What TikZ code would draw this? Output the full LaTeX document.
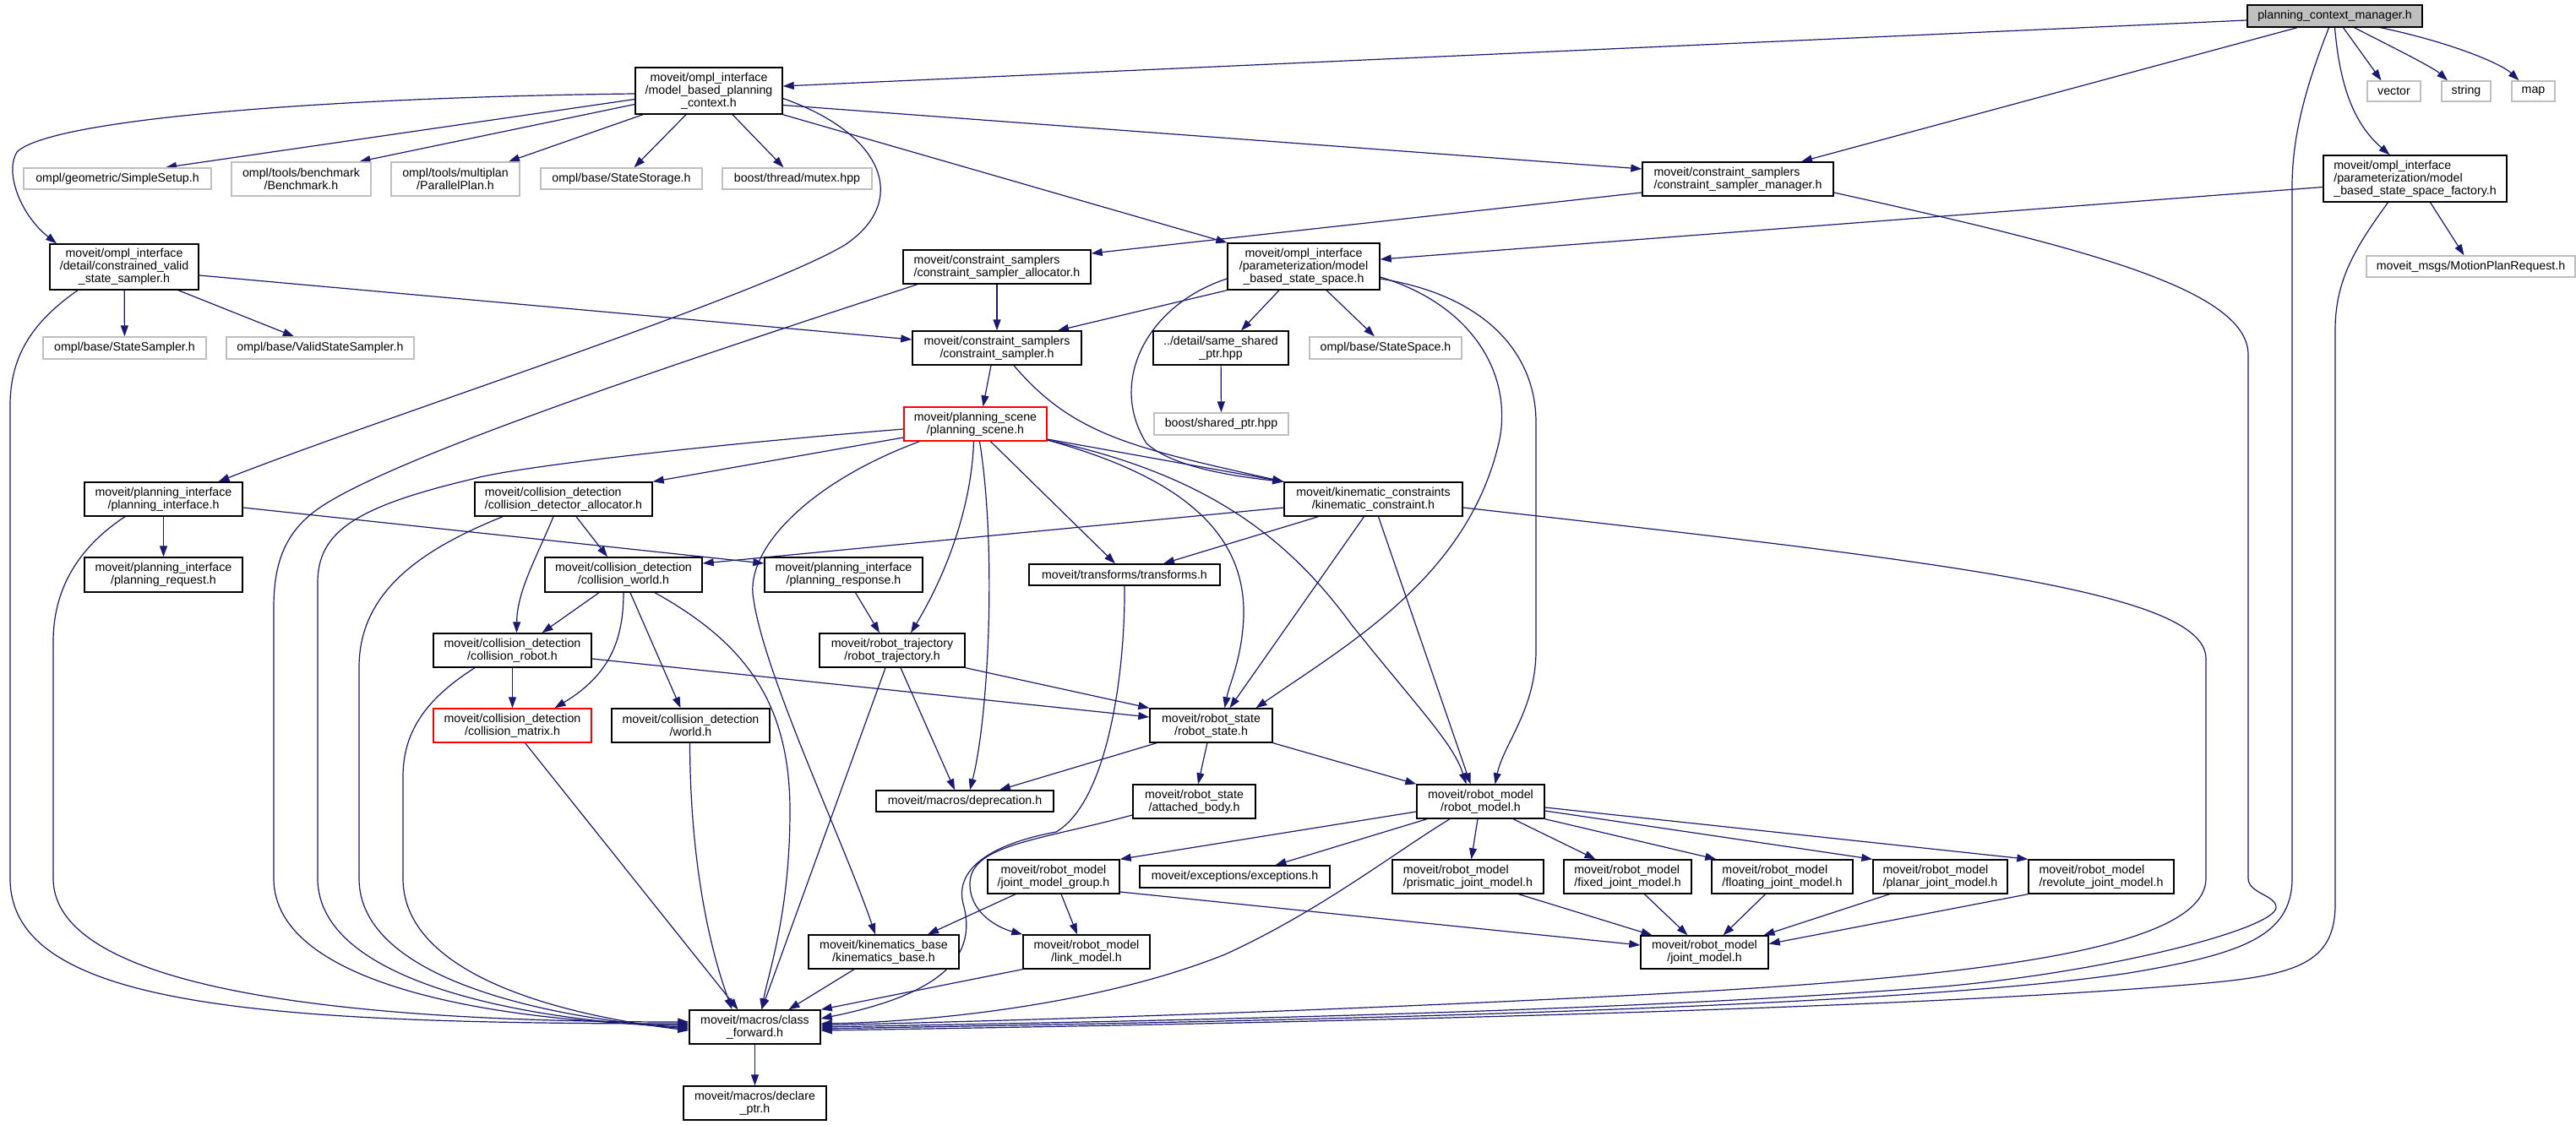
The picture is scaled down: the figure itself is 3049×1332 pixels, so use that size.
\documentclass[tikz,border=0pt]{standalone}
\usepackage{fontspec}
\usetikzlibrary{arrows.meta}
\newfontfamily\dglabel{Liberation Sans}
\definecolor{edgecol}{HTML}{191970}
\definecolor{extgray}{HTML}{BFBFBF}
\pgfdeclarelayer{bg}
\pgfsetlayers{bg,main}
\tikzset{
  base/.style={line width=1.4pt, inner sep=0pt, align=center, fill=white,
    font={\dglabel\fontsize{14.2pt}{15pt}\selectfont}},
  blk/.style={base, draw=black},
  ext/.style={base, draw=extgray},
  redb/.style={base, draw=red},
  root/.style={base, draw=black, fill=extgray},
  lft/.style={align=left},
  sz/.style 2 args={minimum width=#1pt, minimum height=#2pt},
  edge/.style={draw=edgecol, line width=1.2pt, -{Triangle[length=13pt,width=9pt]}}
}
\begin{document}
\begin{tikzpicture}[x=1pt,y=-1pt]
\useasboundingbox (0,0) rectangle (3049,1332);
% nodes
\node[root,sz={207}{26}] (pcm) at (2763.5,19) {planning\_context\_manager.h};
\node[blk,sz={174}{55}] (mbpc) at (839,107.5) {moveit/ompl\_interface\\/model\_based\_planning\\\_context.h};
\node[ext,sz={222}{25}] (simplesetup) at (139,211.5) {ompl/geometric/SimpleSetup.h};
\node[ext,sz={165}{40}] (benchmark) at (356.5,212) {ompl/tools/benchmark\\/Benchmark.h};
\node[ext,sz={152}{40}] (parallelplan) at (539,212) {ompl/tools/multiplan\\/ParallelPlan.h};
\node[ext,sz={191}{25}] (statestorage) at (735.5,211.5) {ompl/base/StateStorage.h};
\node[ext,sz={177}{25}] (mutex) at (943.5,211.5) {boost/thread/mutex.hpp};
\node[blk,lft,sz={226}{40}] (csm) at (2057,212) {moveit/constraint\_samplers\\/constraint\_sampler\_manager.h};
\node[blk,lft,sz={217}{55}] (mbssf) at (2858.5,211.5) {moveit/ompl\_interface\\/parameterization/model\\\_based\_state\_space\_factory.h};
\node[ext,sz={63}{24}] (vector) at (2833.5,108) {vector};
\node[ext,sz={58}{24}] (string) at (2919,108) {string};
\node[ext,sz={51}{24}] (map) at (2998.5,108) {map};
\node[blk,sz={176}{54}] (cvss) at (147,316) {moveit/ompl\_interface\\/detail/constrained\_valid\\\_state\_sampler.h};
\node[blk,lft,sz={222}{40}] (csa) at (1180,316) {moveit/constraint\_samplers\\/constraint\_sampler\_allocator.h};
\node[blk,sz={180}{55}] (mbss) at (1543,315.5) {moveit/ompl\_interface\\/parameterization/model\\\_based\_state\_space.h};
\node[ext,sz={247}{25}] (mpr) at (2924.5,315.5) {moveit\_msgs/MotionPlanRequest.h};
\node[ext,sz={193}{26}] (statesampler) at (147.5,412) {ompl/base/StateSampler.h};
\node[ext,sz={222}{26}] (validss) at (379,412) {ompl/base/ValidStateSampler.h};
\node[blk,sz={200}{40}] (cs) at (1180,412) {moveit/constraint\_samplers\\/constraint\_sampler.h};
\node[blk,sz={160}{40}] (ssp) at (1445,412) {../detail/same\_shared\\\_ptr.hpp};
\node[ext,sz={180}{26}] (statespace) at (1640,412) {ompl/base/StateSpace.h};
\node[redb,sz={169}{40}] (ps) at (1154.5,502) {moveit/planning\_scene\\/planning\_scene.h};
\node[ext,sz={159}{26}] (bsp) at (1445.5,502) {boost/shared\_ptr.hpp};
\node[blk,sz={187}{40}] (pi) at (193.5,591) {moveit/planning\_interface\\/planning\_interface.h};
\node[blk,lft,sz={210}{40}] (cda) at (667,591) {moveit/collision\_detection\\/collision\_detector\_allocator.h};
\node[blk,sz={211}{40}] (kc) at (1625.5,591) {moveit/kinematic\_constraints\\/kinematic\_constraint.h};
\node[blk,sz={187}{41}] (preq) at (193.5,680.5) {moveit/planning\_interface\\/planning\_request.h};
\node[blk,sz={186}{41}] (cw) at (738,680.5) {moveit/collision\_detection\\/collision\_world.h};
\node[blk,sz={187}{41}] (presp) at (998.5,680.5) {moveit/planning\_interface\\/planning\_response.h};
\node[blk,sz={226}{25}] (transforms) at (1331,680.5) {moveit/transforms/transforms.h};
\node[blk,sz={187}{40}] (cr) at (606.5,770) {moveit/collision\_detection\\/collision\_robot.h};
\node[blk,sz={172}{40}] (rt) at (1056,770) {moveit/robot\_trajectory\\/robot\_trajectory.h};
\node[redb,sz={187}{40}] (cm) at (606.5,859) {moveit/collision\_detection\\/collision\_matrix.h};
\node[blk,sz={187}{40}] (world) at (817.5,859) {moveit/collision\_detection\\/world.h};
\node[blk,sz={145}{40}] (rs) at (1433.5,859) {moveit/robot\_state\\/robot\_state.h};
\node[blk,sz={210}{25}] (deprecation) at (1142,948.5) {moveit/macros/deprecation.h};
\node[blk,sz={145}{40}] (ab) at (1413.5,949) {moveit/robot\_state\\/attached\_body.h};
\node[blk,sz={151}{40}] (rm) at (1752.5,949) {moveit/robot\_model\\/robot\_model.h};
\node[blk,sz={156}{40}] (jmg) at (1247,1038) {moveit/robot\_model\\/joint\_model\_group.h};
\node[blk,sz={225}{26}] (exc) at (1461.5,1038) {moveit/exceptions/exceptions.h};
\node[blk,lft,sz={179}{40}] (prism) at (1737.5,1038) {moveit/robot\_model\\/prismatic\_joint\_model.h};
\node[blk,lft,sz={151}{40}] (fixed) at (1926.5,1038) {moveit/robot\_model\\/fixed\_joint\_model.h};
\node[blk,lft,sz={167}{40}] (floating) at (2109.5,1038) {moveit/robot\_model\\/floating\_joint\_model.h};
\node[blk,lft,sz={159}{40}] (planar) at (2296.5,1038) {moveit/robot\_model\\/planar\_joint\_model.h};
\node[blk,lft,sz={172}{40}] (revolute) at (2487,1038) {moveit/robot\_model\\/revolute\_joint\_model.h};
\node[blk,sz={178}{40}] (kb) at (1046,1127) {moveit/kinematics\_base\\/kinematics\_base.h};
\node[blk,sz={150}{40}] (lm) at (1286,1127) {moveit/robot\_model\\/link\_model.h};
\node[blk,sz={151}{39}] (jm) at (2017.5,1127.5) {moveit/robot\_model\\/joint\_model.h};
\node[blk,sz={155}{40}] (cf) at (893.5,1216) {moveit/macros/class\\\_forward.h};
\node[blk,sz={169}{40}] (dp) at (893.5,1306) {moveit/macros/declare\\\_ptr.h};
\begin{pgfonlayer}{bg}
\fill[white] (0,0) rectangle (3049,1332);
% pcm
\draw[edge] ([yshift=-5pt]pcm.west) -- ([yshift=5.5pt]mbpc.east);
\draw[edge] ([xshift=-44.5pt]pcm.south) -- ([xshift=75pt]csm.north);
\draw[edge] ([xshift=-7pt]pcm.south) .. controls (2730,100) and (2713,160) .. (2713,220) -- (2713,1040) .. controls (2713,1110) and (2650,1130) .. (2520,1152) .. controls (2200,1200) and (1300,1212) .. ([yshift=-2pt]cf.east);
\draw[edge] (pcm.south) .. controls (2770,110) and (2790,150) .. ([xshift=-30pt]mbssf.north);
\draw[edge] ([xshift=10pt]pcm.south) -- ([xshift=-15pt]vector.north);
\draw[edge] ([xshift=23pt]pcm.south) .. controls (2840,60) and (2880,80) .. ([xshift=-22pt]string.north);
\draw[edge] ([xshift=54pt]pcm.south) .. controls (2900,50) and (2960,75) .. ([xshift=-17pt]map.north);
% mbpc
\draw[edge] ([yshift=-3.5pt]mbpc.west) .. controls (400,115) and (60,140) .. (20,180) .. controls (5,205) and (25,255) .. ([xshift=-80pt]cvss.north);
\draw[edge] ([yshift=-10pt]mbpc.west) -- ([xshift=57pt]simplesetup.north);
\draw[edge] ([yshift=-16pt]mbpc.west) -- ([xshift=69pt]benchmark.north);
\draw[edge] ([xshift=-78pt]mbpc.south) -- ([xshift=63pt]parallelplan.north);
\draw[edge] ([xshift=-27pt]mbpc.south) -- ([xshift=15pt]statestorage.north);
\draw[edge] ([xshift=28pt]mbpc.south) -- ([xshift=-16pt]mutex.north);
\draw[edge] ([yshift=-9pt]mbpc.east) .. controls (1050,160) and (1075,240) .. (1000,290) .. controls (900,350) and (450,495) .. ([xshift=65pt]pi.north);
\draw[edge] ([yshift=-17pt]mbpc.east) -- ([yshift=12pt]csm.west);
\draw[edge] (mbpc.south east) -- (mbss.north west);
% mbssf
\draw[edge] ([yshift=-10pt]mbssf.west) -- ([yshift=8.5pt]mbss.east);
\draw[edge] ([xshift=18pt]mbssf.south) -- ([xshift=-8pt]mpr.north);
\draw[edge] ([xshift=-32pt]mbssf.south) .. controls (2790,290) and (2764,330) .. (2764,390) -- (2764,1070) .. controls (2764,1140) and (2720,1155) .. (2600,1165) .. controls (2200,1200) and (1300,1215) .. ([yshift=-4pt]cf.east);
% csm
\draw[edge] ([yshift=-16pt]csm.west) -- ([yshift=16pt]csa.east);
\draw[edge] ([yshift=-16pt]csm.east) .. controls (2450,290) and (2661,340) .. (2661,420) -- (2661,1040) .. controls (2661,1058) and (2695,1060) .. (2694,1075) .. controls (2690,1100) and (2500,1150) .. (2300,1168) .. controls (1900,1200) and (1300,1210) .. (cf.east);
% kc -> cf
\draw[edge] ([yshift=-10pt]kc.east) .. controls (2300,665) and (2611,700) .. (2611,780) -- (2611,1040) .. controls (2611,1130) and (2300,1160) .. (1900,1180) .. controls (1500,1200) and (1200,1208) .. ([yshift=2pt]cf.east);
% cvss
\draw[edge] (cvss) -- (statesampler);
\draw[edge] ([xshift=64pt]cvss.south) -- ([xshift=-31pt]validss.north);
\draw[edge] ([yshift=-10pt]cvss.east) -- ([yshift=10pt]cs.west);
\draw[edge] ([xshift=-55pt]cvss.south) .. controls (40,380) and (12,420) .. (12,480) -- (12,1040) .. controls (12,1190) and (300,1212) .. ([yshift=4pt]cf.west);
% csa
\draw[edge] (csa) -- (cs);
\draw[edge] ([xshift=-94pt]csa.south) .. controls (800,430) and (470,540) .. (380,600) .. controls (335,630) and (324,670) .. (324,720) -- (324,1040) .. controls (324,1170) and (600,1210) .. ([yshift=2pt]cf.west);
% mbss
\draw[edge] (mbss.south west) -- ([xshift=72pt]cs.north);
\draw[edge] ([xshift=-29pt]mbss.south) -- ([xshift=24pt]ssp.north);
\draw[edge] ([xshift=27pt]mbss.south) -- ([xshift=-13pt]statespace.north);
\draw[edge] ([yshift=-14.5pt]mbss.west) .. controls (1360,360) and (1310,450) .. (1357,525) .. controls (1390,555) and (1470,565) .. (kc.north west);
\draw[edge] ([yshift=-12.5pt]mbss.east) .. controls (1740,360) and (1790,440) .. (1775,520) .. controls (1740,680) and (1600,760) .. ([xshift=53pt]rs.north);
\draw[edge] ([yshift=-14.5pt]mbss.east) .. controls (1760,350) and (1818,420) .. (1818,500) -- (1818,770) .. controls (1818,840) and (1780,880) .. ([xshift=17pt]rm.north);
% ssp
\draw[edge] (ssp) -- (bsp);
% cs
\draw[edge] ([xshift=-7pt]cs.south) -- ([xshift=9pt]ps.north);
\draw[edge] ([xshift=20pt]cs.south) .. controls (1270,515) and (1340,530) .. (kc.north west);
% ps
\draw[edge] ([yshift=-16pt]ps.west) -- (cda.north east);
\draw[edge] ([yshift=-6pt]ps.west) .. controls (800,530) and (600,555) .. (560,567) .. controls (420,600) and (376,630) .. (376,690) -- (376,1040) .. controls (376,1170) and (650,1210) .. (cf.west);
\draw[edge] ([yshift=-18pt]ps.east) -- (kc.north west);
\draw[edge] ([xshift=-2pt]ps.south) .. controls (1150,600) and (1120,680) .. ([xshift=22pt]rt.north);
\draw[edge] ([xshift=5pt]ps.south) .. controls (1180,650) and (1170,850) .. ([xshift=6pt]deprecation.north);
\draw[edge] ([xshift=18pt]ps.south) -- ([xshift=-11pt]transforms.north);
\draw[edge] ([xshift=-66pt]ps.south) .. controls (960,570) and (880,650) .. (892,710) .. controls (905,800) and (1000,1000) .. ([xshift=-10pt]kb.north);
\draw[edge] ([yshift=-19pt]ps.east) .. controls (1380,560) and (1475,620) .. (1472,730) .. controls (1470,780) and (1455,810) .. ([xshift=16pt]rs.north);
\draw[edge] ([yshift=-19pt]ps.east) .. controls (1420,560) and (1520,630) .. (1600,740) .. controls (1680,840) and (1720,880) .. ([xshift=-17pt]rm.north);
% pi
\draw[edge] (pi) -- (preq);
\draw[edge] ([yshift=-10pt]pi.east) -- ([yshift=13.5pt]presp.west);
\draw[edge] ([xshift=-45.5pt]pi.south) .. controls (90,650) and (63,700) .. (63,760) -- (63,1040) .. controls (63,1170) and (400,1210) .. ([yshift=6pt]cf.west);
% cda
\draw[edge] ([xshift=15pt]cda.south) -- ([xshift=-19pt]cw.north);
\draw[edge] ([xshift=-12pt]cda.south) .. controls (635,660) and (612,700) .. ([xshift=5pt]cr.north);
\draw[edge] ([xshift=-72pt]cda.south) .. controls (500,650) and (425,700) .. (425,790) -- (425,1040) .. controls (425,1160) and (650,1205) .. ([yshift=-2pt]cf.west);
% kc
\draw[edge] ([yshift=-10pt]kc.west) -- ([yshift=13.5pt]cw.east);
\draw[edge] ([xshift=-65pt]kc.south) -- ([xshift=46pt]transforms.north);
\draw[edge] ([xshift=-11pt]kc.south) -- ([xshift=22pt]rs.north);
\draw[edge] ([xshift=6pt]kc.south) -- ([xshift=-12pt]rm.north);
% cw
\draw[edge] ([xshift=-29pt]cw.south) -- ([xshift=35pt]cr.north);
\draw[edge] (cw.south) .. controls (738,760) and (720,800) .. ([xshift=50pt]cm.north);
\draw[edge] ([xshift=8pt]cw.south) -- ([xshift=-12pt]world.north);
\draw[edge] ([xshift=37pt]cw.south) .. controls (880,760) and (935,830) .. (935,960) .. controls (935,1080) and (910,1150) .. ([xshift=8pt]cf.north);
% cr
\draw[edge] (cr) -- (cm);
\draw[edge] ([yshift=-10pt]cr.east) -- ([yshift=10pt]rs.west);
\draw[edge] ([xshift=-44.5pt]cr.south) .. controls (500,830) and (477,870) .. (477,920) -- (477,1040) .. controls (477,1150) and (650,1200) .. ([yshift=-4pt]cf.west);
% cm, world
\draw[edge] ([xshift=15pt]cm.south) -- ([xshift=-20pt]cf.north);
\draw[edge] ([xshift=-1pt]world.south) .. controls (817,1050) and (850,1150) .. ([xshift=-27pt]cf.north);
% presp, rt
\draw[edge] ([xshift=14pt]presp.south) -- ([xshift=-15pt]rt.north);
\draw[edge] (rt.south east) -- (rs.north west);
\draw[edge] ([xshift=10pt]rt.south) -- ([xshift=-12pt]deprecation.north);
\draw[edge] ([xshift=-8pt]rt.south) -- ([xshift=8pt]cf.north);
% transforms
\draw[edge] (transforms.south) .. controls (1332,800) and (1310,950) .. (1250,985) .. controls (1170,1000) and (1130,1030) .. (1140,1070) .. controls (1160,1140) and (1100,1180) .. ([yshift=10pt]cf.east);
% rs
\draw[edge] ([xshift=-64.5pt]rs.south) -- ([xshift=41pt]deprecation.north);
\draw[edge] (rs) -- (ab);
\draw[edge] (rs.south east) -- (rm.north west);
% ab
\draw[edge] ([yshift=-16pt]ab.west) .. controls (1230,995) and (1150,1000) .. (1148,1045) .. controls (1147,1080) and (1180,1098) .. (lm.north west);
% rm
\draw[edge] ([yshift=-12pt]rm.west) -- (jmg.north east);
\draw[edge] ([xshift=-63.5pt]rm.south) -- ([xshift=48pt]exc.north);
\draw[edge] ([xshift=-3.5pt]rm.south) -- ([xshift=4pt]prism.north);
\draw[edge] ([xshift=38.5pt]rm.south) -- ([xshift=-38pt]fixed.north);
\draw[edge] (rm.south east) -- ([xshift=6pt]floating.north west);
\draw[edge] ([yshift=-11pt]rm.east) -- (planar.north west);
\draw[edge] ([yshift=-7pt]rm.east) -- (revolute.north west);
\draw[edge] ([xshift=-36.5pt]rm.south) .. controls (1650,1010) and (1560,1080) .. (1450,1130) .. controls (1300,1190) and (1100,1210) .. ([yshift=4pt]cf.east);
% jmg
\draw[edge] ([xshift=-45pt]jmg.south) -- ([xshift=52pt]kb.north);
\draw[edge] ([xshift=9pt]jmg.south) -- ([xshift=-11pt]lm.north);
\draw[edge] ([yshift=-18pt]jmg.east) -- ([yshift=8.5pt]jm.west);
% joint models
\draw[edge] ([xshift=60pt]prism.south) -- ([xshift=-62pt]jm.north);
\draw[edge] ([xshift=20pt]fixed.south) -- ([xshift=-20pt]jm.north);
\draw[edge] ([xshift=-20pt]floating.south) -- ([xshift=22pt]jm.north);
\draw[edge] ([xshift=-60pt]planar.south) -- ([xshift=70pt]jm.north);
\draw[edge] (revolute.south west) -- ([yshift=10pt]jm.east);
% kb, lm, cf
\draw[edge] ([xshift=-35pt]kb.south) -- ([xshift=40pt]cf.north);
\draw[edge] (lm.south west) -- (cf.north east);
\draw[edge] (cf) -- (dp);
\end{pgfonlayer}
\end{tikzpicture}
\end{document}
